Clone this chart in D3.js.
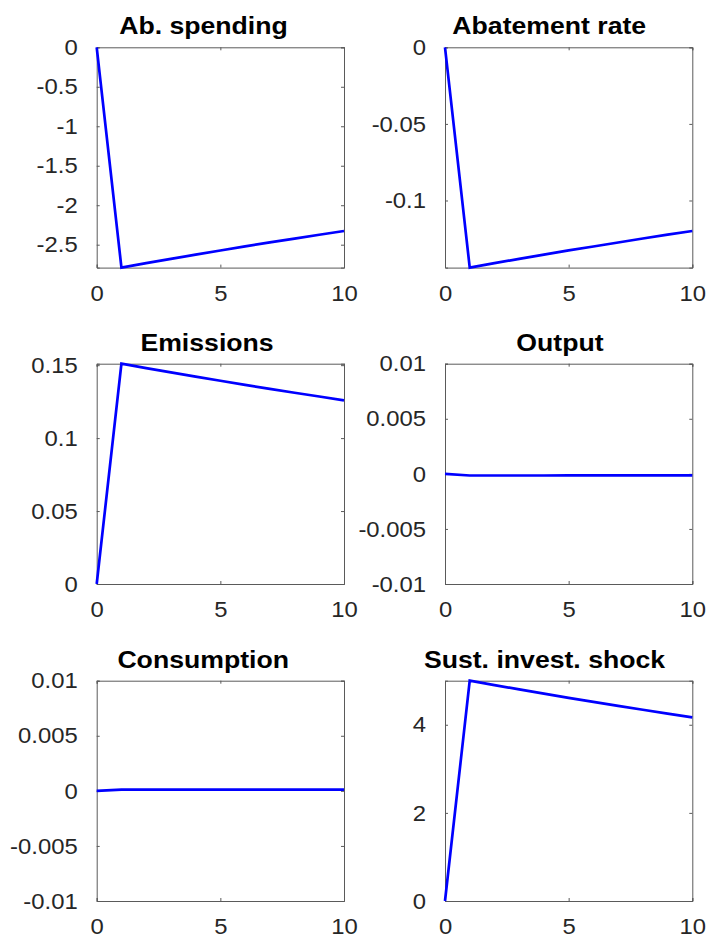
<!DOCTYPE html>
<html>
<head>
<meta charset="utf-8">
<script src="https://cdn.jsdelivr.net/npm/d3@7"></script>
<style>
  html, body { margin: 0; padding: 0; background: #fff; }
  svg { display: block; }
  text { font-family: "Liberation Sans", Arial, Helvetica, sans-serif; }
</style>
</head>
<body>
<svg id="chart" width="708" height="935"></svg>
<script>
// Impulse responses over horizons 0..10
const periods = [0, 1, 2, 3, 4, 5, 6, 7, 8, 9, 10];

const titles = ["Ab. spending", "Abatement rate", "Emissions", "Output", "Consumption", "Sust. invest. shock"];

const abSpending     = [0, -2.790, -2.734, -2.680, -2.626, -2.573, -2.522, -2.471, -2.422, -2.374, -2.326];
const abatementRate  = [0, -0.1438, -0.1409, -0.1381, -0.1353, -0.1326, -0.1300, -0.1274, -0.1248, -0.1223, -0.1199];
const emissions      = [0, 0.1510, 0.1480, 0.1450, 0.1421, 0.1393, 0.1365, 0.1338, 0.1311, 0.1285, 0.1259];
const output         = [0, -0.00015, -0.00015, -0.00015, -0.000148, -0.000147, -0.000146, -0.000145, -0.000144, -0.000143, -0.000142];
const consumption    = [0, 0.00012, 0.00012, 0.000118, 0.000116, 0.000114, 0.000112, 0.00011, 0.000108, 0.000106, 0.000104];
const sustShock      = [0, 5.000, 4.900, 4.802, 4.706, 4.612, 4.520, 4.429, 4.341, 4.254, 4.169];

const yDomains = [[-2.79, 0], [-0.1438, 0], [0, 0.151], [-0.01, 0.01], [-0.01, 0.01], [0, 5]];

const yTicks = [
  [0, -0.5, -1, -1.5, -2, -2.5],
  [0, -0.05, -0.1],
  [0, 0.05, 0.1, 0.15],
  [-0.01, -0.005, 0, 0.005, 0.01],
  [-0.01, -0.005, 0, 0.005, 0.01],
  [0, 2, 4]
];
const yTickLabels = [
  ["0", "-0.5", "-1", "-1.5", "-2", "-2.5"],
  ["0", "-0.05", "-0.1"],
  ["0", "0.05", "0.1", "0.15"],
  ["-0.01", "-0.005", "0", "0.005", "0.01"],
  ["-0.01", "-0.005", "0", "0.005", "0.01"],
  ["0", "2", "4"]
];
const xTicks = [0, 5, 10];
const xTickLabels = ["0", "5", "10"];

const series = [abSpending, abatementRate, emissions, output, consumption, sustShock];

// Grid of subplot boxes
const colLeft = [96.7, 445];
const rowTop = [47.3, 363.7, 680.7];
const plotW = 247.3;
const plotH = 220.3;
const tickLen = 3;
const axisColor = "#5a5a5a";
const labelColor = "#262626";
const labelSize = 22.5;
const labelStretch = 1.06;
const titleSize = 24;
const titleStretch = 1.11;

const svg = d3.select("#chart");

series.forEach((vals, i) => {
  const col = i % 2, row = Math.floor(i / 2);
  const g = svg.append("g").attr("transform", `translate(${colLeft[col]},${rowTop[row]})`);

  const x = d3.scaleLinear().domain([0, 10]).range([0, plotW]);
  const y = d3.scaleLinear().domain(yDomains[i]).range([plotH, 0]);

  const tickVals = yTicks[i];
  const yLabels = yTickLabels[i];
  const fmtY = d => yLabels[tickVals.indexOf(d)];

  // inward tick marks on all four sides of the box
  const axLeft = d3.axisLeft(y).tickValues(tickVals).tickSize(-tickLen).tickPadding(19).tickFormat(fmtY);
  const axRight = d3.axisRight(y).tickValues(tickVals).tickSize(-tickLen).tickFormat("");
  const axBottom = d3.axisBottom(x).tickValues(xTicks).tickSize(-tickLen).tickPadding(17)
    .tickFormat(d => xTickLabels[xTicks.indexOf(d)]);
  const axTop = d3.axisTop(x).tickValues(xTicks).tickSize(-tickLen).tickFormat("");

  const styleAxis = sel => {
    sel.attr("font-size", null).attr("font-family", null);
    sel.selectAll("path.domain").attr("stroke", axisColor).attr("stroke-width", 1);
    sel.selectAll(".tick line").attr("stroke", axisColor).attr("stroke-width", 1);
    sel.selectAll(".tick text").attr("fill", labelColor)
      .style("font-size", labelSize + "px");
  };

  const gl = g.append("g").call(axLeft).call(styleAxis);
  gl.selectAll(".tick text").each(function () {
    const tx = +d3.select(this).attr("x");
    d3.select(this).attr("x", tx / labelStretch).attr("transform", `scale(${labelStretch},1)`);
  });
  g.append("g").attr("transform", `translate(${plotW},0)`).call(axRight).call(styleAxis);
  g.append("g").attr("transform", `translate(0,${plotH})`).call(axBottom).call(styleAxis)
    .selectAll(".tick text").attr("dy", "0.71em").attr("transform", `scale(${labelStretch},1)`);
  g.append("g").call(axTop).call(styleAxis);

  // response line
  const line = d3.line().x((d, k) => x(periods[k])).y(d => y(d));
  g.append("path")
    .datum(vals)
    .attr("fill", "none")
    .attr("stroke", "#0000ff")
    .attr("stroke-width", 2.7)
    .attr("stroke-linejoin", "miter")
    .attr("d", line);

  // bold title above the box
  const t = g.append("text")
    .attr("text-anchor", "middle")
    .attr("fill", "#000")
    .style("font-weight", "bold")
    .style("font-size", titleSize + "px")
    .text(titles[i]);
  const w = t.node().getComputedTextLength() * titleStretch;
  const cx = plotW / 2 - 0.1 * w;
  t.attr("transform", `translate(${cx},-13) scale(${titleStretch},1)`);
});
</script>
</body>
</html>
